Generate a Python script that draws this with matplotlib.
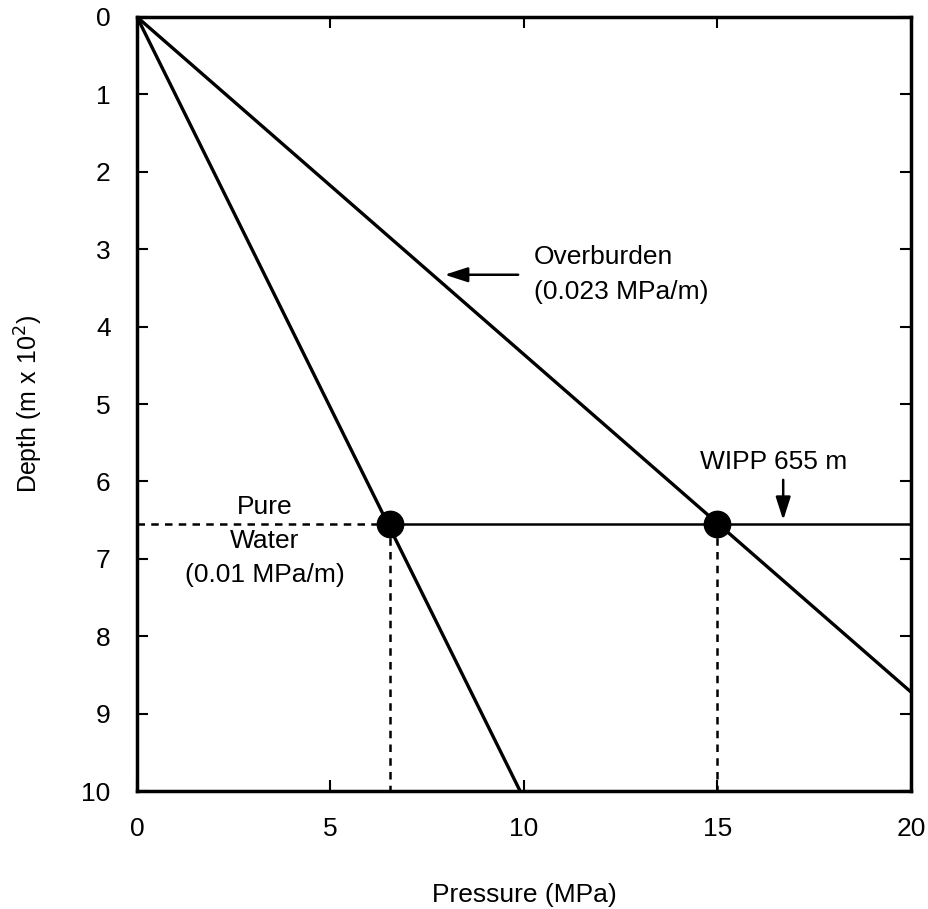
import matplotlib
matplotlib.use("Agg")
import matplotlib.pyplot as plt

plt.rcParams['font.family'] = ['Liberation Sans', 'DejaVu Sans']

# Data
overburden_pressure = [0, 20]
overburden_depth = [0, 8.72]
water_pressure = [0, 9.9]
water_depth = [0, 10]
wipp_depth = 6.55
water_point = (6.55, 6.55)
overburden_point = (15.0, 6.55)
x_ticks = [0, 5, 10, 15, 20]
y_ticks = [0, 1, 2, 3, 4, 5, 6, 7, 8, 9, 10]

fs = 19

fig = plt.figure(figsize=(9.29, 9.09), dpi=100)
ax = fig.add_axes([0.1475, 0.1298, 0.833, 0.8515])

lw = 2.4
ax.plot(overburden_pressure, overburden_depth, color='black', lw=lw, solid_capstyle='butt')
ax.plot(water_pressure, water_depth, color='black', lw=lw, solid_capstyle='butt')

# WIPP horizon
ax.plot([water_point[0], 20], [wipp_depth, wipp_depth], color='black', lw=1.8)
ax.plot([0, water_point[0]], [wipp_depth, wipp_depth], color='black', lw=1.8,
        linestyle=(0, (3, 2.5)))
for px, py in (water_point, overburden_point):
    ax.plot([px, px], [py, 10], color='black', lw=1.8, linestyle=(0, (3, 2.5)))
    ax.plot(px, py, 'o', color='black', markersize=19, zorder=5)

ax.set_xlim(0, 20)
ax.set_ylim(10, 0)
ax.set_xticks(x_ticks)
ax.set_yticks(y_ticks)
ax.tick_params(direction='in', length=8, width=1.5, top=True, right=True,
               labelsize=fs, pad=19)
for s in ax.spines.values():
    s.set_linewidth(2.5)

ax.set_xlabel('Pressure (MPa)', fontsize=fs, labelpad=30)
ax.set_ylabel('Depth (m x 10$^2$)', fontsize=18, labelpad=26)

arrow_kw = dict(arrowstyle='-|>,head_length=1.4,head_width=0.45',
                color='black', lw=1.8, shrinkA=0, shrinkB=0)

# annotations
ax.text(10.25, 3.1, 'Overburden', fontsize=fs, ha='left', va='center')
ax.text(10.25, 3.55, '(0.023 MPa/m)', fontsize=fs, ha='left', va='center')
ax.annotate('', xy=(7.95, 3.33), xytext=(9.85, 3.33), arrowprops=arrow_kw)

ax.text(16.45, 5.75, 'WIPP 655 m', fontsize=fs, ha='center', va='center')
ax.annotate('', xy=(16.7, 6.5), xytext=(16.7, 5.98), arrowprops=arrow_kw)

ax.text(3.3, 6.33, 'Pure', fontsize=fs, ha='center', va='center')
ax.text(3.3, 6.77, 'Water', fontsize=fs, ha='center', va='center')
ax.text(3.3, 7.21, '(0.01 MPa/m)', fontsize=fs, ha='center', va='center')

fig.savefig('out.png', dpi=100)
